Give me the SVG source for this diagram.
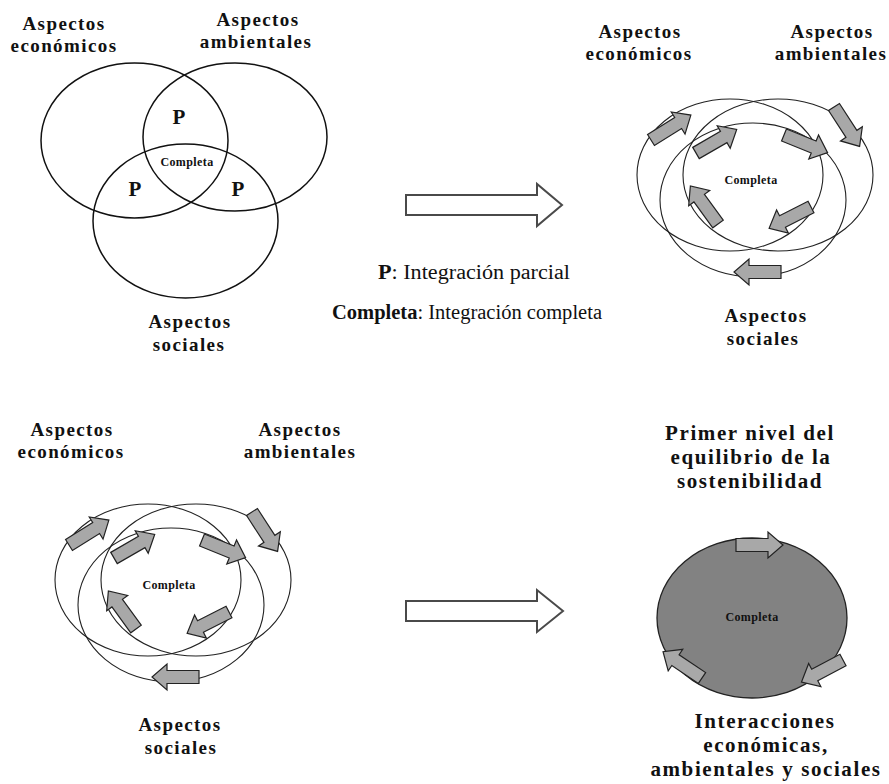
<svg xmlns="http://www.w3.org/2000/svg" width="889" height="784" viewBox="0 0 889 784">
<style>
.lbl{font-family:"Liberation Serif",serif;font-weight:700;font-size:19px;letter-spacing:1.4px;fill:#111;text-anchor:middle}
.big{font-size:21px;letter-spacing:1.6px}
.leg{font-family:"Liberation Serif",serif;font-size:20px;fill:#111;text-anchor:middle}
.cmp{font-family:"Liberation Serif",serif;font-weight:700;font-size:12px;letter-spacing:0.4px;fill:#111;text-anchor:middle}
.pp{font-family:"Liberation Serif",serif;font-weight:700;font-size:21px;fill:#111;text-anchor:middle}
.vc{fill:none;stroke:#111;stroke-width:1.5}
.oc{fill:none;stroke:#222;stroke-width:1.1}
.sa{fill:#a8a8a8;stroke:#222;stroke-width:1.2;stroke-linejoin:miter}
.ha{fill:#fff;stroke:#4a4a4a;stroke-width:2}
</style>
<defs>
<path id="ba" d="M0,-6.5 H32 V-13 L47,0 L32,13 V6.5 H0 Z"/>
</defs>

<g id="venn">
<ellipse class="vc" cx="134.5" cy="140.5" rx="93.5" ry="77.5"/>
<ellipse class="vc" cx="235" cy="137" rx="92" ry="74"/>
<ellipse class="vc" cx="185.5" cy="221" rx="92.5" ry="77"/>
<text class="pp" x="179" y="124">P</text>
<text class="pp" x="135" y="196">P</text>
<text class="pp" x="238" y="196">P</text>
<text class="cmp" x="187" y="166">Completa</text>
<text class="lbl" x="64" y="30">Aspectos</text>
<text class="lbl" x="64" y="52">económicos</text>
<text class="lbl" x="258" y="26">Aspectos</text>
<text class="lbl" x="256" y="48">ambientales</text>
<text class="lbl" x="190" y="328">Aspectos</text>
<text class="lbl" x="189" y="351">sociales</text>
</g>

<g id="legend">
<text class="leg" x="474" y="279" textLength="192" lengthAdjust="spacingAndGlyphs"><tspan font-weight="bold">P</tspan>: Integración parcial</text>
<text class="leg" x="467" y="319" textLength="270" lengthAdjust="spacingAndGlyphs"><tspan font-weight="bold">Completa</tspan>: Integración completa</text>
</g>

<g id="converging-1">
<ellipse class="oc" cx="730" cy="175" rx="93" ry="76"/>
<ellipse class="oc" cx="778" cy="175" rx="95" ry="76"/>
<ellipse class="oc" cx="753" cy="200" rx="93" ry="77"/>
<use href="#ba" class="sa" transform="translate(651,140) rotate(-32)"/>
<use href="#ba" class="sa" transform="translate(696,153) rotate(-30)"/>
<use href="#ba" class="sa" transform="translate(784,135) rotate(22)"/>
<use href="#ba" class="sa" transform="translate(834,107) rotate(57)"/>
<use href="#ba" class="sa" transform="translate(811,207) rotate(153)"/>
<use href="#ba" class="sa" transform="translate(718,224) rotate(-126)"/>
<use href="#ba" class="sa" transform="translate(781,272) rotate(180)"/>
<text class="cmp" x="751" y="184">Completa</text>
</g>
<g id="labels-1">
<text class="lbl" x="640" y="38">Aspectos</text>
<text class="lbl" x="639" y="60">económicos</text>
<text class="lbl" x="832" y="38">Aspectos</text>
<text class="lbl" x="831" y="60">ambientales</text>
<text class="lbl" x="766" y="322">Aspectos</text>
<text class="lbl" x="763" y="345">sociales</text>
</g>

<g id="converging-2" transform="translate(-582,405)">
<ellipse class="oc" cx="730" cy="175" rx="93" ry="76"/>
<ellipse class="oc" cx="778" cy="175" rx="95" ry="76"/>
<ellipse class="oc" cx="753" cy="200" rx="93" ry="77"/>
<use href="#ba" class="sa" transform="translate(651,140) rotate(-32)"/>
<use href="#ba" class="sa" transform="translate(696,153) rotate(-30)"/>
<use href="#ba" class="sa" transform="translate(784,135) rotate(22)"/>
<use href="#ba" class="sa" transform="translate(834,107) rotate(57)"/>
<use href="#ba" class="sa" transform="translate(811,207) rotate(153)"/>
<use href="#ba" class="sa" transform="translate(718,224) rotate(-126)"/>
<use href="#ba" class="sa" transform="translate(781,272) rotate(180)"/>
<text class="cmp" x="751" y="184">Completa</text>
</g>
<g id="labels-2">
<text class="lbl" x="72" y="436">Aspectos</text>
<text class="lbl" x="71" y="458">económicos</text>
<text class="lbl" x="300" y="436">Aspectos</text>
<text class="lbl" x="300" y="458">ambientales</text>
<text class="lbl" x="180" y="731">Aspectos</text>
<text class="lbl" x="181" y="754">sociales</text>
</g>

<g id="equilibrium">
<ellipse cx="752" cy="618" rx="95" ry="80" fill="#828282" stroke="#222" stroke-width="1.3"/>
<use href="#ba" class="sa" transform="translate(736,545)"/>
<use href="#ba" class="sa" transform="translate(843,660) rotate(152)"/>
<use href="#ba" class="sa" transform="translate(702,678) rotate(-146)"/>
<text class="cmp" x="752" y="621">Completa</text>
<text class="lbl big" x="750" y="440">Primer nivel del</text>
<text class="lbl big" x="751" y="464">equilibrio de la</text>
<text class="lbl big" x="750" y="488">sostenibilidad</text>
<text class="lbl big" x="765" y="728">Interacciones</text>
<text class="lbl big" x="766" y="752">económicas,</text>
<text class="lbl big" x="766" y="776">ambientales y sociales</text>
</g>

<g id="connectors">
<path class="ha" d="M406,195 H537 V184 L562,205 L537,226 V215 H406 Z"/>
<path class="ha" d="M406,601 H537 V590 L563,611 L537,632 V621 H406 Z"/>
</g>
</svg>
